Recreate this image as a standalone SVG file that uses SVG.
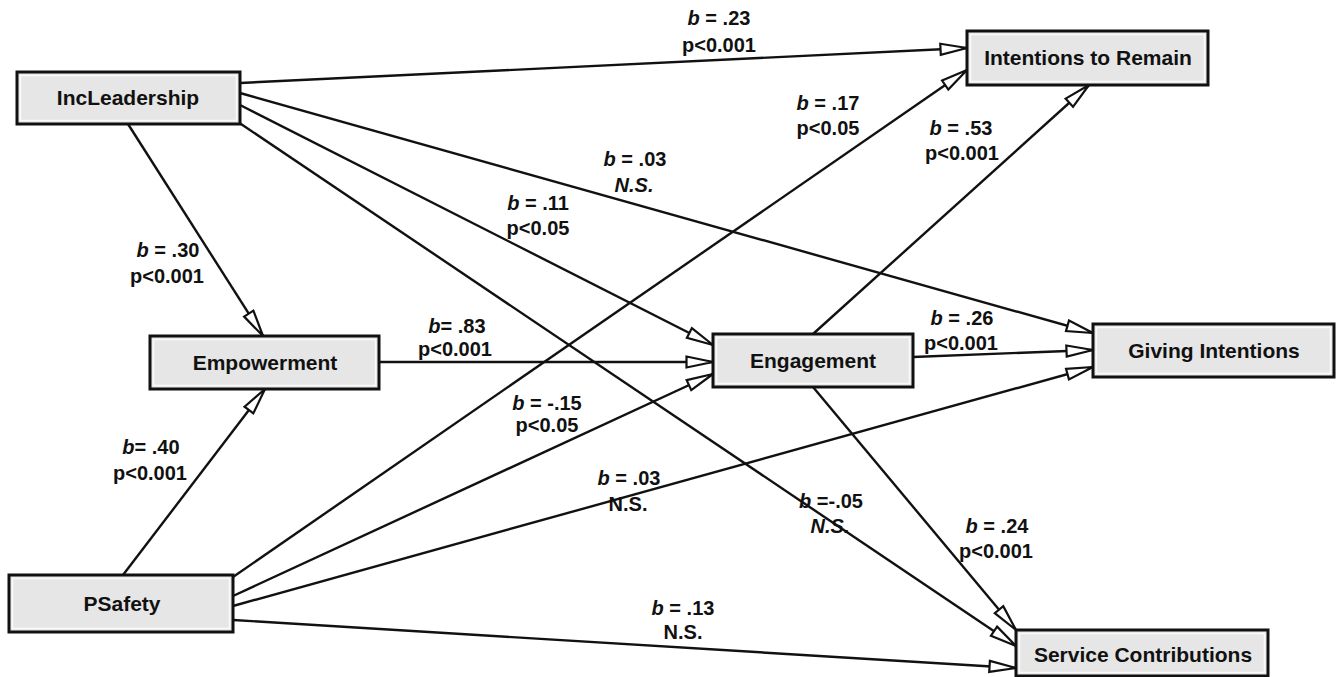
<svg xmlns="http://www.w3.org/2000/svg" width="1339" height="677" viewBox="0 0 1339 677">
<style>
.box{fill:#e6e6e6;stroke:#111;stroke-width:3}
.inner{fill:none;stroke:#fafafa;stroke-width:1.5}
.nt{font-family:"Liberation Sans",Arial,sans-serif;font-weight:bold;font-size:21px;fill:#111;text-anchor:middle}
.lb{font-family:"Liberation Sans",Arial,sans-serif;font-weight:bold;font-size:20px;fill:#111;text-anchor:middle}
.it{font-style:italic}
.edge{stroke:#111;stroke-width:2.4;fill:none;marker-end:url(#arr)}
</style>
<defs>
<marker id="arr" markerUnits="userSpaceOnUse" markerWidth="32" markerHeight="16" refX="28" refY="7" orient="auto">
<path d="M1.5,1.5 L28,7 L1.5,12.5 Z" fill="#fff" stroke="#111" stroke-width="2.2"/>
</marker>
</defs>
<rect width="1339" height="677" fill="#fff"/>
<g id="connectors">
<line class="edge" x1="240" y1="83" x2="967" y2="48"/>
<line class="edge" x1="240" y1="93" x2="1093" y2="333"/>
<line class="edge" x1="240" y1="105" x2="713" y2="345"/>
<line class="edge" x1="238" y1="122" x2="1016" y2="646"/>
<line class="edge" x1="128" y1="124" x2="263" y2="336"/>
<line class="edge" x1="123" y1="575" x2="265" y2="389"/>
<line class="edge" x1="379" y1="362" x2="713" y2="362"/>
<line class="edge" x1="233" y1="577" x2="967" y2="70"/>
<line class="edge" x1="233" y1="596" x2="713" y2="374"/>
<line class="edge" x1="233" y1="606" x2="1093" y2="367"/>
<line class="edge" x1="233" y1="620" x2="1016" y2="668"/>
<line class="edge" x1="813" y1="334" x2="1089" y2="85"/>
<line class="edge" x1="913" y1="357" x2="1093" y2="350"/>
<line class="edge" x1="813" y1="387" x2="1016" y2="630"/>
</g>
<g id="labels">
<text class="lb" x="719" y="25"><tspan class="it">b</tspan> = .23</text>
<text class="lb" x="719" y="52">p&lt;0.001</text>
<text class="lb" x="828" y="110"><tspan class="it">b</tspan> = .17</text>
<text class="lb" x="828" y="135">p&lt;0.05</text>
<text class="lb" x="961" y="135"><tspan class="it">b</tspan> = .53</text>
<text class="lb" x="962" y="160">p&lt;0.001</text>
<text class="lb" x="635" y="166"><tspan class="it">b</tspan> = .03</text>
<text class="lb it" x="634" y="192">N.S.</text>
<text class="lb" x="538" y="210"><tspan class="it">b</tspan> = .11</text>
<text class="lb" x="538" y="235">p&lt;0.05</text>
<text class="lb" x="168" y="257"><tspan class="it">b</tspan> = .30</text>
<text class="lb" x="167" y="283">p&lt;0.001</text>
<text class="lb" x="457" y="333"><tspan class="it">b</tspan>= .83</text>
<text class="lb" x="455" y="356">p&lt;0.001</text>
<text class="lb" x="962" y="325"><tspan class="it">b</tspan> = .26</text>
<text class="lb" x="961" y="350">p&lt;0.001</text>
<text class="lb" x="547" y="410"><tspan class="it">b</tspan> = -.15</text>
<text class="lb" x="547" y="432">p&lt;0.05</text>
<text class="lb" x="151" y="454"><tspan class="it">b</tspan>= .40</text>
<text class="lb" x="150" y="480">p&lt;0.001</text>
<text class="lb" x="629" y="485"><tspan class="it">b</tspan> = .03</text>
<text class="lb" x="628" y="511">N.S.</text>
<text class="lb" x="831" y="508"><tspan class="it">b</tspan> =-.05</text>
<text class="lb it" x="830" y="533">N.S.</text>
<text class="lb" x="997" y="533"><tspan class="it">b</tspan> = .24</text>
<text class="lb" x="996" y="558">p&lt;0.001</text>
<text class="lb" x="683" y="615"><tspan class="it">b</tspan> = .13</text>
<text class="lb" x="683" y="639">N.S.</text>
</g>
<g id="node-incleadership">
<rect class="box" x="17" y="72" width="223" height="52"/>
<rect class="inner" x="20.5" y="75.5" width="216" height="45"/>
<text class="nt" x="128" y="105">IncLeadership</text>
</g>
<g id="node-empowerment">
<rect class="box" x="150" y="336" width="229" height="53"/>
<rect class="inner" x="153.5" y="339.5" width="222" height="46"/>
<text class="nt" x="265" y="370">Empowerment</text>
</g>
<g id="node-psafety">
<rect class="box" x="9" y="575" width="224" height="57"/>
<rect class="inner" x="12.5" y="578.5" width="217" height="50"/>
<text class="nt" x="122" y="611">PSafety</text>
</g>
<g id="node-engagement">
<rect class="box" x="713" y="334" width="200" height="53"/>
<rect class="inner" x="716.5" y="337.5" width="193" height="46"/>
<text class="nt" x="813" y="368">Engagement</text>
</g>
<g id="node-intentions">
<rect class="box" x="967" y="31" width="241" height="54"/>
<rect class="inner" x="970.5" y="34.5" width="234" height="47"/>
<text class="nt" x="1088" y="65">Intentions to Remain</text>
</g>
<g id="node-giving">
<rect class="box" x="1093" y="324" width="241" height="53"/>
<rect class="inner" x="1096.5" y="327.5" width="234" height="46"/>
<text class="nt" x="1214" y="358">Giving Intentions</text>
</g>
<g id="node-service">
<rect class="box" x="1016" y="630" width="252" height="46"/>
<rect class="inner" x="1019.5" y="633.5" width="245" height="39"/>
<text class="nt" x="1143" y="662">Service Contributions</text>
</g>
</svg>
